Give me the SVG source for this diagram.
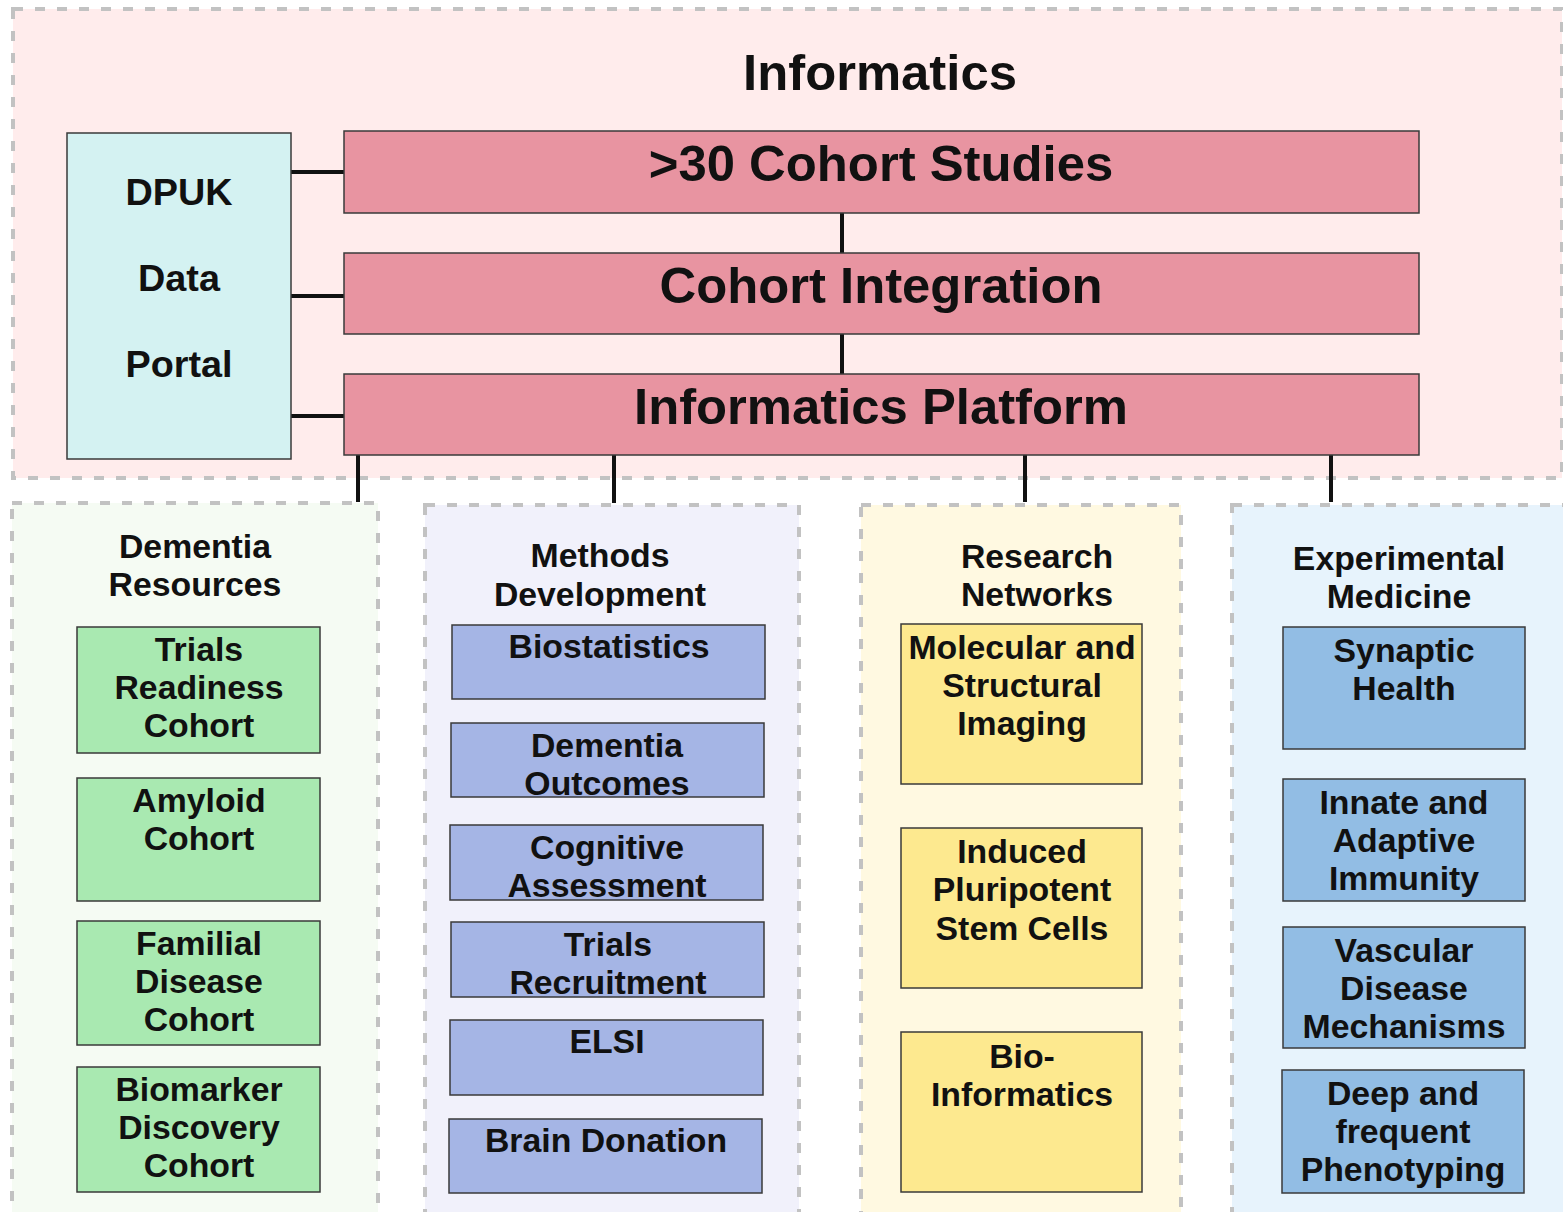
<svg xmlns="http://www.w3.org/2000/svg" width="1563" height="1212" viewBox="0 0 1563 1212">
<style>
.panel{stroke:#c2c2c2;stroke-width:4;stroke-dasharray:10 12}
.box{stroke:#3a3a3a;stroke-width:1.5}
.pink{fill:#e894a1}
.green{fill:#a9e9b1}
.purple{fill:#a5b5e5}
.yellow{fill:#fde98f}
.blue{fill:#92bde4}
text{font-family:"Liberation Sans",Arial,sans-serif;font-weight:bold;fill:#111;text-anchor:middle}
.t33{font-size:33.8px}
.t50{font-size:50.8px}
.t37{font-size:37.8px}
.conn line{stroke:#111;stroke-width:4}
</style>
<rect width="1563" height="1212" fill="#ffffff"/>
<g id="informatics">
<rect class="panel" x="13" y="9" width="1549" height="469" fill="#ffecec"/>
<text class="t50" x="880" y="90">Informatics</text>
</g>
<g id="dementia-resources">
<rect class="panel" x="12" y="503" width="366" height="720" fill="#f5fbf3"/>
<text class="t33"><tspan x="195" y="558">Dementia</tspan><tspan x="195" y="596">Resources</tspan></text>
</g>
<g id="methods-development">
<rect class="panel" x="425" y="505" width="374" height="720" fill="#f1f1fb"/>
<text class="t33"><tspan x="600" y="567">Methods</tspan><tspan x="600" y="606">Development</tspan></text>
</g>
<g id="research-networks">
<rect class="panel" x="861" y="505" width="320" height="720" fill="#fff9e1"/>
<text class="t33"><tspan x="1037" y="568">Research</tspan><tspan x="1037" y="606">Networks</tspan></text>
</g>
<g id="experimental-medicine">
<rect class="panel" x="1232" y="505" width="340" height="720" fill="#e7f3fc"/>
<text class="t33"><tspan x="1399" y="570">Experimental</tspan><tspan x="1399" y="608">Medicine</tspan></text>
</g>
<g class="conn" id="connectors">
<line x1="291" y1="172" x2="344" y2="172"/>
<line x1="291" y1="296" x2="344" y2="296"/>
<line x1="291" y1="416" x2="344" y2="416"/>
<line x1="842" y1="213" x2="842" y2="253"/>
<line x1="842" y1="334" x2="842" y2="374"/>
<line x1="358" y1="455" x2="358" y2="502"/>
<line x1="614" y1="455" x2="614" y2="503"/>
<line x1="1025" y1="455" x2="1025" y2="502"/>
<line x1="1331" y1="455" x2="1331" y2="502"/>
</g>
<g id="dpuk">
<rect class="box" x="67" y="133" width="224" height="326" fill="#d4f2f2"/>
<text class="t37"><tspan x="179" y="205">DPUK</tspan><tspan x="179" y="291">Data</tspan><tspan x="179" y="377">Portal</tspan></text>
</g>
<g id="cohort-studies">
<rect class="box pink" x="344" y="131" width="1075" height="82"/>
<text class="t50" x="881" y="181">&gt;30 Cohort Studies</text>
</g>
<g id="cohort-integration">
<rect class="box pink" x="344" y="253" width="1075" height="81"/>
<text class="t50" x="881" y="303">Cohort Integration</text>
</g>
<g id="informatics-platform">
<rect class="box pink" x="344" y="374" width="1075" height="81"/>
<text class="t50" x="881" y="424">Informatics Platform</text>
</g>
<g id="trials-readiness">
<rect class="box green" x="77" y="627" width="243" height="126"/>
<text class="t33"><tspan x="199" y="661">Trials</tspan><tspan x="199" y="699">Readiness</tspan><tspan x="199" y="737">Cohort</tspan></text>
</g>
<g id="amyloid">
<rect class="box green" x="77" y="778" width="243" height="123"/>
<text class="t33"><tspan x="199" y="812">Amyloid</tspan><tspan x="199" y="850">Cohort</tspan></text>
</g>
<g id="familial">
<rect class="box green" x="77" y="921" width="243" height="124"/>
<text class="t33"><tspan x="199" y="955">Familial</tspan><tspan x="199" y="993">Disease</tspan><tspan x="199" y="1031">Cohort</tspan></text>
</g>
<g id="biomarker">
<rect class="box green" x="77" y="1067" width="243" height="125"/>
<text class="t33"><tspan x="199" y="1101">Biomarker</tspan><tspan x="199" y="1139">Discovery</tspan><tspan x="199" y="1177">Cohort</tspan></text>
</g>
<g id="biostatistics">
<rect class="box purple" x="452" y="625" width="313" height="74"/>
<text class="t33" x="609" y="658">Biostatistics</text>
</g>
<g id="dementia-outcomes">
<rect class="box purple" x="451" y="723" width="313" height="74"/>
<text class="t33"><tspan x="607" y="757">Dementia</tspan><tspan x="607" y="795">Outcomes</tspan></text>
</g>
<g id="cognitive-assessment">
<rect class="box purple" x="450" y="825" width="313" height="75"/>
<text class="t33"><tspan x="607" y="859">Cognitive</tspan><tspan x="607" y="897">Assessment</tspan></text>
</g>
<g id="trials-recruitment">
<rect class="box purple" x="451" y="922" width="313" height="75"/>
<text class="t33"><tspan x="608" y="956">Trials</tspan><tspan x="608" y="994">Recruitment</tspan></text>
</g>
<g id="elsi">
<rect class="box purple" x="450" y="1020" width="313" height="75"/>
<text class="t33" x="607" y="1053">ELSI</text>
</g>
<g id="brain-donation">
<rect class="box purple" x="449" y="1119" width="313" height="74"/>
<text class="t33" x="606" y="1152">Brain Donation</text>
</g>
<g id="molecular-imaging">
<rect class="box yellow" x="901" y="624" width="241" height="160"/>
<text class="t33"><tspan x="1022" y="659">Molecular and</tspan><tspan x="1022" y="697">Structural</tspan><tspan x="1022" y="735">Imaging</tspan></text>
</g>
<g id="ipsc">
<rect class="box yellow" x="901" y="828" width="241" height="160"/>
<text class="t33"><tspan x="1022" y="863">Induced</tspan><tspan x="1022" y="901">Pluripotent</tspan><tspan x="1022" y="940">Stem Cells</tspan></text>
</g>
<g id="bioinformatics">
<rect class="box yellow" x="901" y="1032" width="241" height="160"/>
<text class="t33"><tspan x="1022" y="1068">Bio-</tspan><tspan x="1022" y="1106">Informatics</tspan></text>
</g>
<g id="synaptic-health">
<rect class="box blue" x="1283" y="627" width="242" height="122"/>
<text class="t33"><tspan x="1404" y="662">Synaptic</tspan><tspan x="1404" y="700">Health</tspan></text>
</g>
<g id="immunity">
<rect class="box blue" x="1283" y="779" width="242" height="122"/>
<text class="t33"><tspan x="1404" y="814">Innate and</tspan><tspan x="1404" y="852">Adaptive</tspan><tspan x="1404" y="890">Immunity</tspan></text>
</g>
<g id="vascular">
<rect class="box blue" x="1283" y="927" width="242" height="121"/>
<text class="t33"><tspan x="1404" y="962">Vascular</tspan><tspan x="1404" y="1000">Disease</tspan><tspan x="1404" y="1038">Mechanisms</tspan></text>
</g>
<g id="phenotyping">
<rect class="box blue" x="1282" y="1070" width="242" height="123"/>
<text class="t33"><tspan x="1403" y="1105">Deep and</tspan><tspan x="1403" y="1143">frequent</tspan><tspan x="1403" y="1181">Phenotyping</tspan></text>
</g>
</svg>
